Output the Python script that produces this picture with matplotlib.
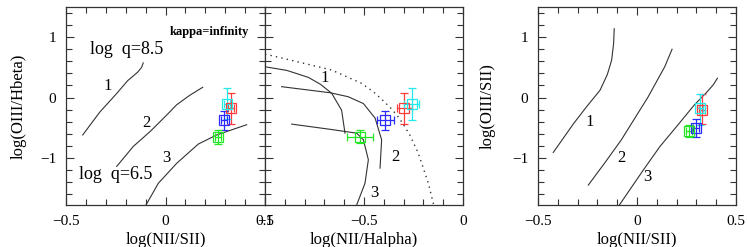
import matplotlib
matplotlib.use("Agg")
import matplotlib.pyplot as plt
from matplotlib.ticker import MultipleLocator, FuncFormatter

plt.rcParams['font.family'] = ['Liberation Serif', 'DejaVu Serif']
plt.rcParams['axes.unicode_minus'] = True

# ---------------- data ----------------
# Panel 1: log(OIII/Hbeta) vs log(NII/SII)
p1_c1_x = [-0.416, -0.33, -0.25, -0.19, -0.14, -0.12, -0.112]
p1_c1_y = [-0.62, -0.24, 0.05, 0.28, 0.42, 0.50, 0.575]
p1_c2_x = [-0.245, -0.162, -0.078, 0.006, 0.056, 0.123, 0.187]
p1_c2_y = [-1.14, -0.81, -0.565, -0.29, -0.12, 0.04, 0.17]
p1_c3_x = [-0.098, -0.036, 0.056, 0.165, 0.257, 0.408]
p1_c3_y = [-1.78, -1.42, -1.09, -0.77, -0.62, -0.45]

# Panel 2: log(OIII/Hbeta) vs log(NII/Halpha)
p2_cA_x = [-1.0, -0.89, -0.781, -0.72, -0.663, -0.613, -0.596]
p2_cA_y = [0.51, 0.45, 0.334, 0.22, 0.07, -0.21, -0.59]
p2_cB_x = [-0.916, -0.672, -0.58, -0.503, -0.444, -0.411, -0.419]
p2_cB_y = [0.18, 0.08, 0.014, -0.10, -0.34, -0.70, -1.17]
p2_cC_x = [-0.865, -0.663, -0.537, -0.503, -0.478, -0.495, -0.537]
p2_cC_y = [-0.44, -0.53, -0.59, -0.70, -1.03, -1.42, -1.78]
p2_dot_x = [-1.0, -0.832, -0.663, -0.512, -0.453, -0.41, -0.36, -0.32, -0.27, -0.226, -0.175, -0.148]
p2_dot_y = [0.72, 0.59, 0.455, 0.235, 0.096, -0.03, -0.19, -0.35, -0.61, -0.92, -1.42, -1.78]

# Panel 3: log(OIII/SII) vs log(NII/SII)
p3_c1_x = [-0.423, -0.32, -0.254, -0.187, -0.15, -0.128, -0.118, -0.115]
p3_c1_y = [-0.91, -0.43, -0.15, 0.12, 0.38, 0.62, 0.90, 1.14]
p3_c2_x = [-0.246, -0.16, -0.079, 0.056, 0.14, 0.177]
p3_c2_y = [-1.45, -1.07, -0.70, 0.01, 0.51, 0.80]
p3_c3_x = [-0.089, 0.032, 0.116, 0.20, 0.29, 0.35, 0.385, 0.406]
p3_c3_y = [-1.78, -1.20, -0.81, -0.48, -0.12, 0.08, 0.21, 0.32]

# Observed points (red, cyan, blue, green)
pt_colors = ['#ff3b3b', '#22eaea', '#2a2aff', '#22e622']

p1_x = [0.331, 0.307, 0.294, 0.264]
p1_y = [-0.17, -0.10, -0.38, -0.65]
p1_xerr = [0.015, 0.015, 0.015, 0.015]
p1_yerr_lo = [0.26, 0.25, 0.16, 0.12]
p1_yerr_hi = [0.24, 0.25, 0.15, 0.11]

p2_x = [-0.296, -0.26, -0.392, -0.52]
p2_y = [-0.18, -0.10, -0.37, -0.65]
p2_xerr = [0.037, 0.039, 0.044, 0.067]
p2_yerr_lo = [0.25, 0.27, 0.16, 0.11]
p2_yerr_hi = [0.25, 0.25, 0.14, 0.11]

p3_x = [0.328, 0.316, 0.298, 0.264]
p3_y = [-0.20, -0.17, -0.51, -0.55]
p3_xerr = [0.015, 0.015, 0.015, 0.015]
p3_yerr_lo = [0.23, 0.28, 0.15, 0.10]
p3_yerr_hi = [0.26, 0.23, 0.15, 0.10]

# ---------------- figure ----------------
W, H = 747, 247
fig = plt.figure(figsize=(W / 100, H / 100), dpi=100)

def rect(l, r, t=7, b=205):
    return [l / W, (H - b) / H, (r - l) / W, (b - t) / H]

ax1 = fig.add_axes(rect(66, 265))
ax2 = fig.add_axes(rect(265, 463))
ax3 = fig.add_axes(rect(538, 736))

line_kw = dict(color='#333333', lw=0.8)
eb_kw = dict(fmt='s', mfc='none', ms=7, mew=0.9, capsize=3, elinewidth=0.9, capthick=0.9)

def fmt(v, pos):
    v = round(v, 6)
    if v == 0:
        return '0'
    return ('%g' % v).replace('-', '\u2212')

def style(ax, xlim, xmaj, labels_y=True):
    ax.set_xlim(*xlim)
    ax.set_ylim(-1.78, 1.5)
    ax.xaxis.set_major_locator(MultipleLocator(xmaj))
    ax.xaxis.set_minor_locator(MultipleLocator(0.1))
    ax.yaxis.set_major_locator(MultipleLocator(1))
    ax.yaxis.set_minor_locator(MultipleLocator(0.2))
    ax.xaxis.set_major_formatter(FuncFormatter(fmt))
    ax.yaxis.set_major_formatter(FuncFormatter(fmt))
    ax.tick_params(which='both', direction='in', top=True, right=True,
                   labelsize=11, pad=7, color='#333333', width=0.8)
    ax.tick_params(which='major', length=6)
    ax.tick_params(which='minor', length=4)
    if not labels_y:
        ax.tick_params(labelleft=False)
    for s in ax.spines.values():
        s.set_linewidth(0.9)
        s.set_color('#333333')

def draw_points(ax, xs, ys, xe, ylo, yhi):
    for i in range(len(xs)):
        ax.errorbar([xs[i]], [ys[i]], xerr=[xe[i]], yerr=[[ylo[i]], [yhi[i]]],
                    mec=pt_colors[i], ecolor=pt_colors[i], **eb_kw)

# Panel 1
style(ax1, (-0.5, 0.5), 0.5)
ax1.plot(p1_c1_x, p1_c1_y, **line_kw)
ax1.plot(p1_c2_x, p1_c2_y, **line_kw)
ax1.plot(p1_c3_x, p1_c3_y, **line_kw)
draw_points(ax1, p1_x, p1_y, p1_xerr, p1_yerr_lo, p1_yerr_hi)
ax1.text(-0.292, 0.19, '1', fontsize=12, ha='center', va='center')
ax1.text(-0.095, -0.42, '2', fontsize=12, ha='center', va='center')
ax1.text(0.006, -1.0, '3', fontsize=12, ha='center', va='center')
ax1.text(-0.195, 0.79, 'log  q=8.5', fontsize=13, ha='center', va='center')
ax1.text(-0.25, -1.28, 'log  q=6.5', fontsize=13, ha='center', va='center')
ax1.text(0.22, 1.08, 'kappa=infinity', fontsize=9, fontweight='bold', ha='center', va='center')
ax1.set_xlabel('log(NII/SII)', fontsize=12, labelpad=3)
ax1.set_ylabel('log(OIII/Hbeta)', fontsize=12)
ax1.yaxis.set_label_coords(-0.196, 0.5)

# Panel 2
style(ax2, (-1.0, 0.0), 0.5, labels_y=False)
ax2.plot(p2_cA_x, p2_cA_y, **line_kw)
ax2.plot(p2_cB_x, p2_cB_y, **line_kw)
ax2.plot(p2_cC_x, p2_cC_y, **line_kw)
ax2.plot(p2_dot_x, p2_dot_y, color='#333333', lw=1.0, ls=(0, (1, 3)))
draw_points(ax2, p2_x, p2_y, p2_xerr, p2_yerr_lo, p2_yerr_hi)
ax2.text(-0.697, 0.33, '1', fontsize=12, ha='center', va='center')
ax2.text(-0.34, -0.99, '2', fontsize=12, ha='center', va='center')
ax2.text(-0.448, -1.58, '3', fontsize=12, ha='center', va='center')
ax2.set_xlabel('log(NII/Halpha)', fontsize=12, labelpad=3)

# Panel 3
style(ax3, (-0.5, 0.5), 0.5)
ax3.plot(p3_c1_x, p3_c1_y, **line_kw)
ax3.plot(p3_c2_x, p3_c2_y, **line_kw)
ax3.plot(p3_c3_x, p3_c3_y, **line_kw)
draw_points(ax3, p3_x, p3_y, p3_xerr, p3_yerr_lo, p3_yerr_hi)
ax3.text(-0.241, -0.41, '1', fontsize=12, ha='center', va='center')
ax3.text(-0.077, -1.0, '2', fontsize=12, ha='center', va='center')
ax3.text(0.054, -1.31, '3', fontsize=12, ha='center', va='center')
ax3.set_xlabel('log(NII/SII)', fontsize=12, labelpad=3)
ax3.set_ylabel('log(OIII/SII)', fontsize=12)
ax3.yaxis.set_label_coords(-0.215, 0.5)

fig.savefig('out.png', dpi=100)
